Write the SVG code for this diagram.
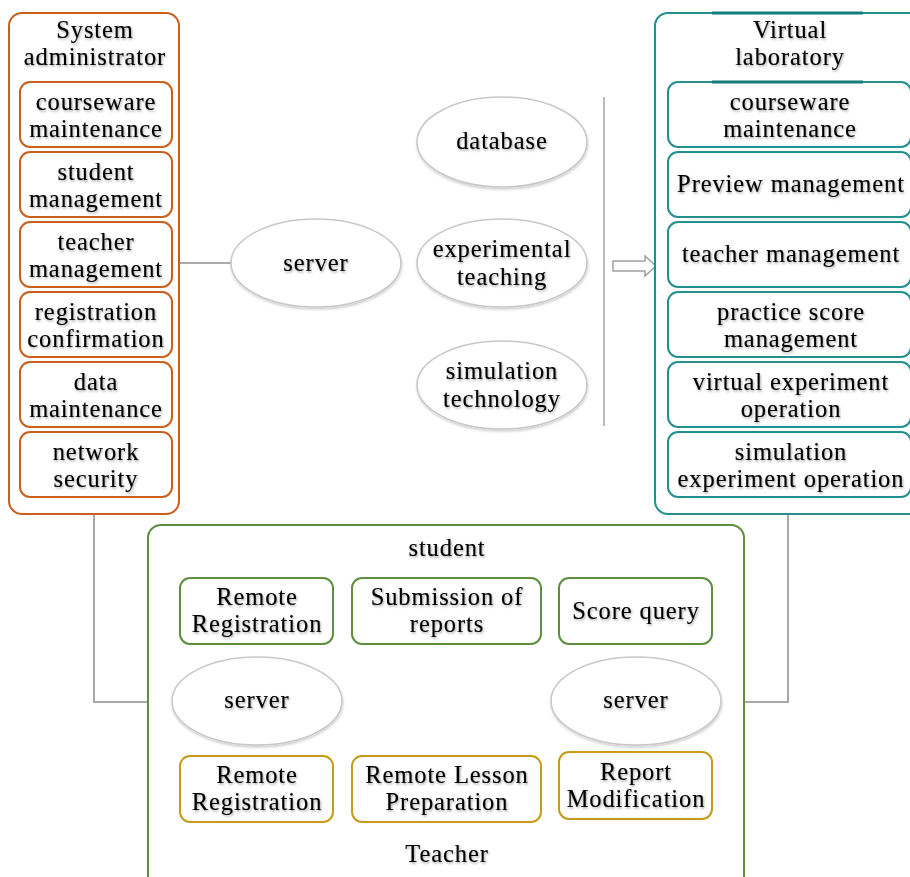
<svg xmlns="http://www.w3.org/2000/svg" width="910" height="877" viewBox="0 0 910 877">
<defs>
<filter id="ts" x="-10%" y="-30%" width="120%" height="160%">
<feDropShadow dx="1" dy="1.5" stdDeviation="0.9" flood-color="#000" flood-opacity="0.35"/>
</filter>
<filter id="bs" x="-10%" y="-10%" width="120%" height="130%">
<feDropShadow dx="0.5" dy="2" stdDeviation="1.2" flood-color="#000" flood-opacity="0.18"/>
</filter>
</defs>
<style>
text{font-family:"Liberation Serif","Times New Roman",serif;font-size:24.5px;fill:#000;stroke:#000;stroke-width:0.12;text-anchor:middle;letter-spacing:0.9px;filter:url(#ts)}
.or{fill:#fff;stroke:#C9601C;stroke-width:2}
.tl{fill:#fff;stroke:#22908E;stroke-width:2}
.gr{fill:#fff;stroke:#5E8E3E;stroke-width:2}
.gd{fill:#fff;stroke:#C89B17;stroke-width:2}
.el{fill:#fff;stroke:#C8C8C8;stroke-width:1.6;filter:url(#bs)}
.cn{fill:none;stroke:#A9A9A9;stroke-width:2}
</style>

<g id="connectors">
<line class="cn" x1="179" y1="263" x2="231" y2="263"/>
<polyline class="cn" points="94,514 94,702 148,702"/>
<polyline class="cn" points="788,514 788,702 744,702"/>
<line x1="604" y1="97" x2="604" y2="426" stroke="#A9A9A9" stroke-width="1.6"/>
<polygon points="613,261 645,261 645,256 656,266 645,276 645,271 613,271" fill="#fff" stroke="#A0A0A0" stroke-width="1.5"/>
</g>

<g id="sysadmin">
<rect class="or" x="9" y="13" width="170" height="501" rx="13"/>
<text x="95" y="38">System</text>
<text x="95" y="65">administrator</text>
</g>
<g id="sa-courseware"><rect class="or" x="20" y="82" width="152" height="65" rx="10"/><text x="96" y="110">courseware</text><text x="96" y="137">maintenance</text></g>
<g id="sa-student"><rect class="or" x="20" y="152" width="152" height="65" rx="10"/><text x="96" y="180">student</text><text x="96" y="207">management</text></g>
<g id="sa-teacher"><rect class="or" x="20" y="222" width="152" height="65" rx="10"/><text x="96" y="250">teacher</text><text x="96" y="277">management</text></g>
<g id="sa-registration"><rect class="or" x="20" y="292" width="152" height="65" rx="10"/><text x="96" y="320">registration</text><text x="96" y="347">confirmation</text></g>
<g id="sa-data"><rect class="or" x="20" y="362" width="152" height="65" rx="10"/><text x="96" y="390">data</text><text x="96" y="417">maintenance</text></g>
<g id="sa-network"><rect class="or" x="20" y="432" width="152" height="65" rx="10"/><text x="96" y="460">network</text><text x="96" y="487">security</text></g>

<g id="server-top"><ellipse class="el" cx="316" cy="263" rx="85" ry="44"/><text x="316" y="271">server</text></g>
<g id="database"><ellipse class="el" cx="502" cy="142" rx="85" ry="45"/><text x="502" y="149">database</text></g>
<g id="exp-teaching"><ellipse class="el" cx="502" cy="263" rx="85" ry="44"/><text x="502" y="257">experimental</text><text x="502" y="285">teaching</text></g>
<g id="sim-tech"><ellipse class="el" cx="502" cy="385" rx="85" ry="44"/><text x="502" y="379">simulation</text><text x="502" y="407">technology</text></g>

<g id="virtual-lab">
<rect class="tl" x="655" y="13" width="275" height="501" rx="13"/>
<line x1="712" y1="13" x2="863" y2="13" stroke="#137D7B" stroke-width="3"/>
<text x="790" y="38">Virtual</text>
<text x="790" y="65">laboratory</text>
</g>
<g id="vl-courseware"><rect class="tl" x="668" y="82" width="243" height="65" rx="10"/><line x1="712" y1="82" x2="863" y2="82" stroke="#137D7B" stroke-width="3"/><text x="790" y="110">courseware</text><text x="790" y="137">maintenance</text></g>
<g id="vl-preview"><rect class="tl" x="668" y="152" width="243" height="65" rx="10"/><text x="791" y="192">Preview management</text></g>
<g id="vl-teacher"><rect class="tl" x="668" y="222" width="243" height="65" rx="10"/><text x="791" y="262">teacher management</text></g>
<g id="vl-practice"><rect class="tl" x="668" y="292" width="243" height="65" rx="10"/><text x="791" y="320">practice score</text><text x="791" y="347">management</text></g>
<g id="vl-virtual"><rect class="tl" x="668" y="362" width="243" height="65" rx="10"/><text x="791" y="390">virtual experiment</text><text x="791" y="417">operation</text></g>
<g id="vl-simulation"><rect class="tl" x="668" y="432" width="243" height="65" rx="10"/><text x="791" y="460">simulation</text><text x="791" y="487">experiment operation</text></g>

<g id="bottom">
<rect class="gr" x="148" y="525" width="596" height="370" rx="13"/>
<text x="447" y="556">student</text>
<text x="447" y="862">Teacher</text>
</g>
<g id="st-remote"><rect class="gr" x="180" y="578" width="153" height="66" rx="10"/><text x="257" y="605">Remote</text><text x="257" y="632">Registration</text></g>
<g id="st-submission"><rect class="gr" x="352" y="578" width="189" height="66" rx="10"/><text x="447" y="605">Submission of</text><text x="447" y="632">reports</text></g>
<g id="st-score"><rect class="gr" x="559" y="578" width="153" height="66" rx="10"/><text x="636" y="619">Score query</text></g>
<g id="server-left"><ellipse class="el" cx="257" cy="701" rx="85" ry="44"/><text x="257" y="708">server</text></g>
<g id="server-right"><ellipse class="el" cx="636" cy="701" rx="85" ry="44"/><text x="636" y="708">server</text></g>
<g id="te-remote"><rect class="gd" x="180" y="756" width="153" height="66" rx="10"/><text x="257" y="783">Remote</text><text x="257" y="810">Registration</text></g>
<g id="te-lesson"><rect class="gd" x="352" y="756" width="189" height="66" rx="10"/><text x="447" y="783">Remote Lesson</text><text x="447" y="810">Preparation</text></g>
<g id="te-report"><rect class="gd" x="559" y="752" width="153" height="67" rx="10"/><text x="636" y="780">Report</text><text x="636" y="807">Modification</text></g>
</svg>
